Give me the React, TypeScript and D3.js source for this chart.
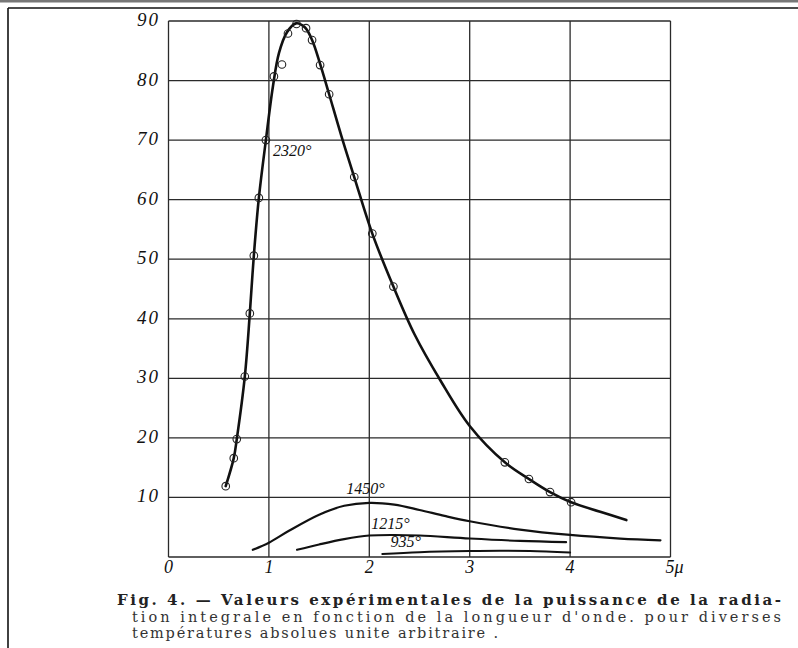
import React, { useEffect, useRef } from "react";
import * as d3 from "d3";

// wavelength (microns) / intensity (arbitrary units)
const xTicks = [0, 1, 2, 3, 4, 5];
const yTicks = [10, 20, 30, 40, 50, 60, 70, 80, 90];
const xTickLabels = ["0", "1", "2", "3", "4", "5μ"];

const temperatures = ["2320°", "1450°", "1215°", "935°"];

// measured points, 2320°
const points2320: [number, number][] = [
  [0.57, 11.9], [0.65, 16.6], [0.68, 19.8], [0.76, 30.3], [0.81, 40.9],
  [0.85, 50.6], [0.9, 60.3], [0.97, 70], [1.05, 80.7], [1.13, 82.7],
  [1.19, 87.9], [1.275, 89.5], [1.37, 88.8], [1.43, 86.8], [1.51, 82.6],
  [1.6, 77.7], [1.85, 63.8], [2.03, 54.3], [2.24, 45.4], [3.35, 15.9],
  [3.59, 13.1], [3.8, 10.9], [4.01, 9.2],
];

// drawn curves
const curve2320: [number, number][] = [
  [0.57, 11.9], [0.65, 16.6], [0.68, 19.8], [0.76, 30.3], [0.81, 40.9],
  [0.85, 50.6], [0.9, 60.3], [0.97, 70], [1.04, 79], [1.1, 84.6],
  [1.18, 88.1], [1.27, 89.6], [1.36, 88.9], [1.43, 86.8], [1.51, 82.8],
  [1.6, 77.7], [1.72, 70.8], [1.85, 63.8], [2.03, 54.3], [2.24, 45.4],
  [2.45, 37.4], [2.71, 29.6], [3.0, 22.0], [3.35, 15.9],
  [3.59, 13.1], [3.8, 10.9], [4.01, 9.2], [4.3, 7.6], [4.56, 6.2],
];
const curve1450: [number, number][] = [
  [0.84, 1.2], [1.0, 2.4], [1.2, 4.4], [1.5, 7.1], [1.75, 8.6], [2.0, 9.1],
  [2.25, 8.8], [2.5, 7.9], [2.75, 6.9], [3.0, 6.0], [3.5, 4.6], [4.0, 3.7],
  [4.5, 3.1], [4.9, 2.8],
];
const curve1215: [number, number][] = [
  [1.28, 1.2], [1.5, 2.1], [1.75, 3.0], [2.0, 3.6], [2.25, 3.7], [2.5, 3.6],
  [3.0, 3.1], [3.5, 2.7], [3.96, 2.5],
];
const curve935: [number, number][] = [
  [2.13, 0.5], [2.5, 0.8], [3.0, 1.0], [3.3, 1.05], [3.6, 1.0], [4.0, 0.75],
];

const captionLines = [
  "Fig. 4. — Valeurs expérimentales de la puissance de la radia-",
  "tion integrale en fonction de la longueur d'onde. pour diverses",
  "températures absolues  unite arbitraire .",
];

const SERIF = "'DejaVu Serif', 'Liberation Serif', serif";
const ITALIC = "'Liberation Serif', 'DejaVu Serif', serif";

const Chart = () => {
  const ref = useRef<SVGSVGElement | null>(null);

  useEffect(() => {
    document.body.style.margin = "0";
    const svg = d3.select(ref.current);
    svg.selectAll("*").remove();

    const width = 798;
    const height = 648;

    svg.append("rect").attr("width", width).attr("height", height).attr("fill", "#fff");

    // scan frame
    svg.append("rect").attr("x", 0).attr("y", 0).attr("width", width).attr("height", 2.5).attr("fill", "#777");
    svg.append("line").attr("x1", 8).attr("x2", width).attr("y1", 8).attr("y2", 8)
      .attr("stroke", "#111").attr("stroke-width", 1.6);
    svg.append("line").attr("x1", 8).attr("x2", 8).attr("y1", 8).attr("y2", height)
      .attr("stroke", "#111").attr("stroke-width", 1.6);

    const x = d3.scaleLinear().domain([0, 5]).range([168.5, 670.5]);
    const y = d3.scaleLinear().domain([0, 90]).range([557, 21]);

    // grid
    const grid = svg.append("g").attr("stroke", "#2a2a2a").attr("stroke-width", 1.3);
    grid.selectAll(".v").data(xTicks).enter().append("line")
      .attr("x1", (d) => x(d)).attr("x2", (d) => x(d))
      .attr("y1", y(90)).attr("y2", y(0));
    grid.selectAll(".h").data([0, ...yTicks]).enter().append("line")
      .attr("x1", x(0)).attr("x2", x(5))
      .attr("y1", (d) => y(d)).attr("y2", (d) => y(d));

    // tick labels
    svg.append("g").selectAll("text").data(yTicks).enter().append("text")
      .attr("x", 160).attr("y", (d) => y(d) + 5)
      .attr("text-anchor", "end")
      .style("font-family", ITALIC).style("font-style", "italic")
      .style("font-size", "19px").attr("letter-spacing", 2)
      .attr("fill", "#111")
      .text((d) => d);

    svg.append("g").selectAll("text").data(xTicks).enter().append("text")
      .attr("x", (d) => x(d) + (d === 5 ? -5 : 0)).attr("y", 573)
      .attr("text-anchor", (d) => (d === 5 ? "start" : "middle"))
      .style("font-family", ITALIC).style("font-style", "italic")
      .style("font-size", "18px")
      .attr("fill", "#111")
      .text((d, i) => xTickLabels[i]);

    const line = d3.line<[number, number]>()
      .x((d) => x(d[0])).y((d) => y(d[1]))
      .curve(d3.curveCatmullRom.alpha(0.5));

    const curves = [
      { data: curve2320, w: 2.6 },
      { data: curve1450, w: 2.2 },
      { data: curve1215, w: 2.1 },
      { data: curve935, w: 2.1 },
    ];
    svg.append("g").selectAll("path").data(curves).enter().append("path")
      .attr("d", (d) => line(d.data))
      .attr("fill", "none").attr("stroke", "#111")
      .attr("stroke-width", (d) => d.w).attr("stroke-linecap", "round");

    svg.append("g").selectAll("circle").data(points2320).enter().append("circle")
      .attr("cx", (d) => x(d[0])).attr("cy", (d) => y(d[1])).attr("r", 3.8)
      .attr("fill", "none").attr("stroke", "#222").attr("stroke-width", 1.1);

    // curve labels
    const labelPos = [
      { x: 1.04, y: 67.3 },
      { x: 1.77, y: 10.5 },
      { x: 2.02, y: 4.7 },
      { x: 2.21, y: 1.6 },
    ];
    svg.append("g").selectAll("text").data(temperatures).enter().append("text")
      .attr("x", (d, i) => x(labelPos[i].x)).attr("y", (d, i) => y(labelPos[i].y))
      .style("font-family", ITALIC).style("font-style", "italic")
      .style("font-size", "16px").attr("fill", "#111")
      .text((d) => d);

    // caption
    const capX = [117, 132, 132];
    const capLen = [664, 649, 366];
    svg.append("g").selectAll("text").data(captionLines).enter().append("text")
      .attr("x", (d, i) => capX[i]).attr("y", (d, i) => 605 + i * 16.5)
      .style("font-family", SERIF)
      .style("font-size", (d, i) => (i === 0 ? "15px" : "14.5px"))
      .style("font-weight", (d, i) => (i === 0 ? "bold" : "normal"))
      .attr("fill", (d, i) => (i === 0 ? "#222" : "#333"))
      .attr("textLength", (d, i) => capLen[i])
      .attr("lengthAdjust", "spacing")
      .text((d) => d);
  }, []);

  return <svg ref={ref} width={798} height={648} style={{ display: "block" }} />;
};

export default function App() {
  return <Chart />;
}
